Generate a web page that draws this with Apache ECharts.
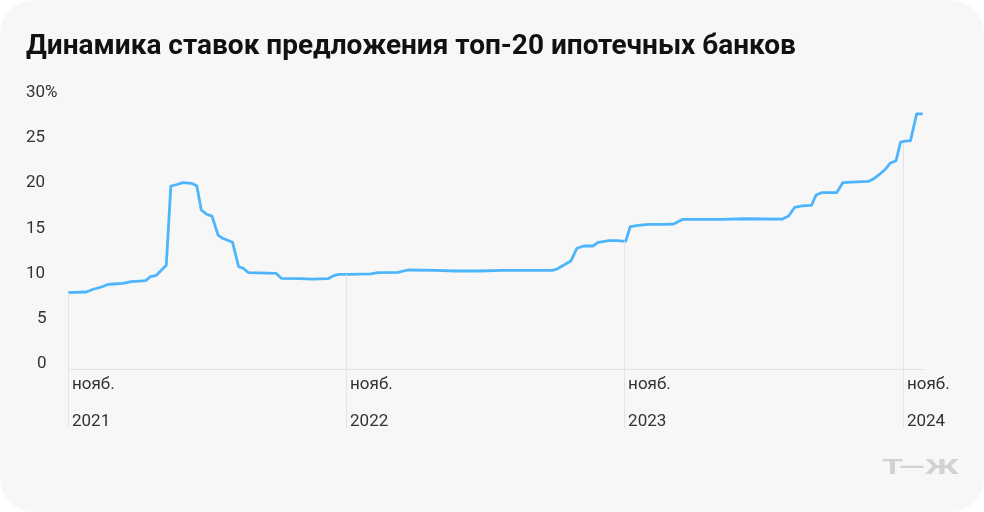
<!DOCTYPE html>
<html>
<head>
<meta charset="utf-8">
<script src="https://cdn.jsdelivr.net/npm/echarts@6/dist/echarts.min.js"></script>
<style>
  html, body { margin: 0; padding: 0; background: #ffffff; }
  #card { position: absolute; left: 0; top: 0; width: 984px; height: 512px; background: #f7f7f7; border-radius: 34px; overflow: hidden; }
  #chart { width: 984px; height: 512px; }
</style>
</head>
<body>
<div id="card"><div id="chart"></div></div>
<script>
// ---- data ----
const titleText = 'Динамика ставок предложения топ-20 ипотечных банков';
const dates = [
  '2021-11-01','2021-11-25','2021-12-04','2021-12-16','2021-12-24','2021-12-30',
  '2022-01-12','2022-01-23','2022-02-03','2022-02-11','2022-02-17','2022-02-25',
  '2022-03-10','2022-03-16','2022-03-23','2022-04-01','2022-04-12','2022-04-19',
  '2022-04-25','2022-05-02','2022-05-09','2022-05-17','2022-05-23','2022-06-05',
  '2022-06-13','2022-06-19','2022-06-26','2022-08-01','2022-08-08','2022-09-01',
  '2022-09-18','2022-10-08','2022-10-17','2022-10-23','2022-11-05','2022-12-04',
  '2022-12-13','2023-01-08','2023-01-21','2023-02-27','2023-03-25','2023-04-25',
  '2023-05-25','2023-07-30','2023-08-05','2023-08-23','2023-08-31','2023-09-09',
  '2023-09-21','2023-09-28','2023-10-12','2023-10-23','2023-11-03','2023-11-09',
  '2023-11-20','2023-12-03','2023-12-23','2024-01-05','2024-01-17','2024-03-09',
  '2024-04-08','2024-05-27','2024-06-04','2024-06-12','2024-06-23','2024-07-04',
  '2024-07-10','2024-07-17','2024-08-06','2024-08-14','2024-08-26','2024-09-17',
  '2024-09-24','2024-10-02','2024-10-09','2024-10-15','2024-10-23','2024-10-29',
  '2024-11-04','2024-11-11','2024-11-19','2024-11-27'
];
const rates = [
  8.43, 8.51, 8.81, 9.09, 9.36, 9.39,
  9.47, 9.65, 9.72, 9.76, 10.2, 10.35,
  11.46, 20.22, 20.36, 20.59, 20.52, 20.25,
  17.57, 17.1, 16.9, 14.8, 14.44, 14.0,
  11.3, 11.13, 10.64, 10.57, 10.02, 9.98,
  9.94, 9.98, 10.35, 10.46, 10.46, 10.5,
  10.64, 10.68, 10.94, 10.9, 10.83, 10.83,
  10.9, 10.9, 11.05, 11.93, 13.34, 13.59,
  13.59, 14.0, 14.18, 14.18, 14.11, 15.72,
  15.88, 15.99, 15.99, 16.02, 16.54, 16.54,
  16.6, 16.57, 16.9, 17.87, 18.04, 18.09,
  19.23, 19.48, 19.48, 20.59, 20.66, 20.74,
  21.03, 21.55, 22.07, 22.73, 23.02, 25.08,
  25.19, 25.23, 28.18, 28.18
];
const markDates = ['2021-11-01', '2022-11-01', '2023-11-01', '2024-11-01'];
const markRates = [8.43, 10.46, 14.14, 24.9];
const monthLabel = 'нояб.';
const yTicks = [0, 5, 10, 15, 20, 25, 30];
const xMin = '2021-11-01';
const xMax = '2024-11-30';

// ---- chart ----
const ts = d => new Date(d + 'T00:00:00Z').getTime();
const seriesData = dates.map((d, i) => [ts(d), rates[i]]);
const markTs = markDates.map(ts);

const chart = echarts.init(document.getElementById('chart'), null, { renderer: 'canvas' });
chart.setOption({
  backgroundColor: 'transparent',
  animation: false,
  title: {
    text: titleText,
    left: 21, top: 28,
    textStyle: { fontFamily: 'Roboto', fontWeight: 'bold', fontSize: 28, color: '#111111' }
  },
  grid: { left: 68, right: 59, top: 97.5, bottom: 143, containLabel: false },
  xAxis: {
    type: 'value',
    min: ts(xMin), max: ts(xMax),
    axisLine: { show: true, lineStyle: { color: '#e4e4e4', width: 1 } },
    axisTick: { show: true, customValues: markTs, length: 59, lineStyle: { color: '#e4e4e4', width: 1 } },
    splitLine: { show: false },
    axisLabel: {
      customValues: markTs,
      formatter: v => monthLabel + '\n' + new Date(v).getUTCFullYear(),
      align: 'left',
      margin: -3,
      lineHeight: 37,
      padding: [0, 0, 0, 4],
      fontFamily: 'Roboto', fontSize: 17, color: '#333333'
    }
  },
  yAxis: {
    type: 'value',
    min: 0, max: 30, interval: 5,
    axisLine: { show: false },
    axisTick: { show: false },
    splitLine: { show: false },
    axisLabel: {
      align: 'left',
      verticalAlign: 'bottom',
      margin: 42,
      lineHeight: 10,
      fontFamily: 'Roboto', fontSize: 17, color: '#333333',
      formatter: v => v === 30 ? v + '%' : (v < 10 ? '{s|' + v + '}' : String(v)),
      rich: { s: { padding: [0, 0, 0, 11], fontFamily: 'Roboto', fontSize: 17, color: '#333333', lineHeight: 10 } }
    }
  },
  series: [
    {
      type: 'line',
      data: seriesData,
      showSymbol: false,
      symbol: 'none',
      lineStyle: { color: '#4db5fc', width: 2.8, join: 'round' },
      z: 3,
      markLine: {
        silent: true,
        symbol: 'none',
        label: { show: false },
        lineStyle: { color: '#e4e4e4', width: 1, type: 'solid' },
        data: markTs.map((t, i) => [{ coord: [t, markRates[i]] }, { coord: [t, 0] }])
      }
    }
  ],
  graphic: [
    {
      type: 'text',
      left: 882, top: 459,
      scaleX: 1.7,
      style: { text: 'Т—Ж', fontFamily: 'Roboto', fontWeight: 'bold', fontSize: 20, fill: '#d2d2d2' }
    }
  ]
});
</script>
</body>
</html>
